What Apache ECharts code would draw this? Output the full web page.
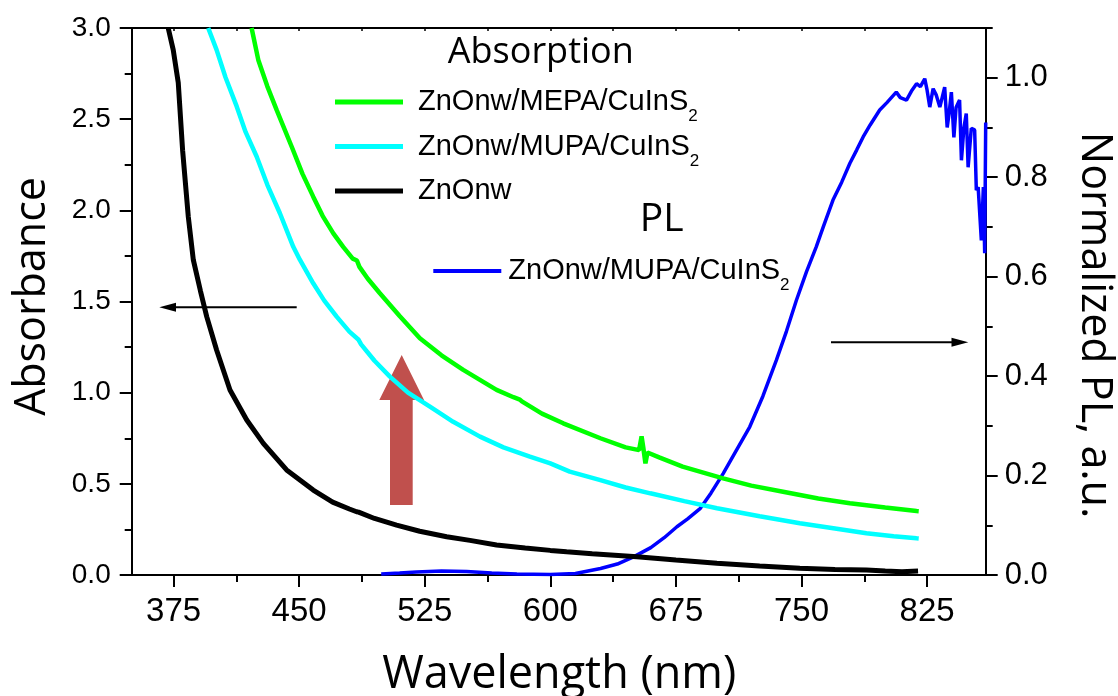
<!DOCTYPE html>
<html><head><meta charset="utf-8">
<script src="https://cdn.jsdelivr.net/npm/echarts@6/dist/echarts.min.js"></script>
<style>html,body{margin:0;padding:0;background:#fff}#c{width:1118px;height:696px}</style>
</head><body><div id="c"></div>
<script>
// ---- ticks ----
const xMajorTicks = [375, 450, 525, 600, 675, 750, 825];
const xMinorTicks = [412.5, 487.5, 562.5, 637.5, 712.5, 787.5];
const yLeftMajor = [0, 0.5, 1.0, 1.5, 2.0, 2.5, 3.0];
const yLeftMinor = [0.25, 0.75, 1.25, 1.75, 2.25, 2.75];
const yRightMajor = [0, 0.2, 0.4, 0.6, 0.8, 1.0];
const yRightMinor = [0.1, 0.3, 0.5, 0.7, 0.9, 1.1];

// ---- absorption: ZnOnw/MEPA/CuInS2 ----
const wlMEPA = [421.6, 425.6, 431, 436.6, 445.5, 452, 458.4, 464, 470.4, 476.3, 482, 484.5, 486, 491, 498.2, 510, 522.1, 535, 548, 567.9, 578, 581.8, 583, 595, 607.7, 629.9, 645, 653, 654.5, 655.5, 656.8, 658, 665, 679, 703.2, 720, 739, 760, 778.9, 800, 818.7, 820];
const absMEPA = [3.0, 2.825, 2.68, 2.55, 2.35, 2.20, 2.075, 1.97, 1.874, 1.80, 1.735, 1.725, 1.69, 1.625, 1.545, 1.42, 1.298, 1.205, 1.125, 1.015, 0.975, 0.962, 0.952, 0.885, 0.832, 0.75, 0.70, 0.685, 0.76, 0.70, 0.612, 0.672, 0.645, 0.594, 0.53, 0.49, 0.457, 0.42, 0.393, 0.37, 0.351, 0.35];

// ---- absorption: ZnOnw/MUPA/CuInS2 ----
const wlMUPA = [395.7, 400.7, 406, 412.7, 418, 424.6, 431, 438.5, 446.5, 450.5, 458.4, 465, 472.4, 480, 485.5, 487, 495, 504.2, 515, 528.1, 542, 558, 572, 587.8, 600, 611.6, 629.9, 645, 659.7, 680, 699.5, 725, 749, 770, 788.8, 805, 818.7, 820];
const absMUPA = [3.0, 2.88, 2.73, 2.57, 2.43, 2.295, 2.14, 1.984, 1.80, 1.728, 1.60, 1.505, 1.417, 1.335, 1.29, 1.265, 1.175, 1.088, 1.00, 0.923, 0.84, 0.759, 0.70, 0.649, 0.612, 0.567, 0.52, 0.48, 0.448, 0.405, 0.366, 0.322, 0.284, 0.255, 0.229, 0.212, 0.201, 0.20];

// ---- absorption: ZnOnw ----
const wlZnO = [371.8, 374.8, 377.8, 380.4, 383.8, 386.8, 391, 394.8, 400.7, 408.7, 418.7, 428.6, 442.5, 458.4, 470, 480, 484.3, 485.5, 495, 508.2, 522, 538.1, 552, 567.9, 585, 600, 609.7, 625, 651.7, 675, 699.5, 725, 749, 770, 788.8, 800, 810, 819.6];
const absZnO = [3.0, 2.88, 2.70, 2.33, 1.965, 1.728, 1.56, 1.417, 1.234, 1.015, 0.85, 0.722, 0.576, 0.466, 0.40, 0.362, 0.347, 0.345, 0.31, 0.274, 0.24, 0.21, 0.19, 0.165, 0.148, 0.135, 0.128, 0.117, 0.10, 0.082, 0.064, 0.05, 0.037, 0.03, 0.027, 0.022, 0.018, 0.022];

// ---- PL: ZnOnw/MUPA/CuInS2 (normalized) ----
const wlPL = [499, 510, 520, 535, 550, 565, 580, 600, 615, 630, 640, 650, 660, 668, 675.6, 682, 689.6, 696, 703.2, 711, 719.1, 727, 735, 741, 747, 753, 758.8, 763, 768.8, 774, 778.9, 783, 786.8, 791, 796.7, 801, 806.6, 809, 812.7, 816, 818.7, 821, 823.6, 825, 826.6, 828.6, 830.5, 832.6, 834, 835.5, 837, 838.2, 839.5, 841, 842.3, 844.4, 845.5, 847, 848.4, 849.5, 851.4, 853.4, 854.4, 855.5, 856.4, 857.4, 858.6, 859.4, 860];
const plMUPA = [0.002, 0.004, 0.006, 0.008, 0.007, 0.004, 0.002, 0.001, 0.003, 0.013, 0.022, 0.037, 0.055, 0.075, 0.097, 0.113, 0.134, 0.165, 0.204, 0.25, 0.298, 0.36, 0.432, 0.49, 0.553, 0.61, 0.66, 0.70, 0.754, 0.79, 0.828, 0.855, 0.881, 0.905, 0.935, 0.95, 0.971, 0.960, 0.955, 0.975, 0.988, 0.982, 0.998, 0.975, 0.941, 0.978, 0.965, 0.941, 0.96, 0.981, 0.90, 0.93, 0.971, 0.88, 0.94, 0.955, 0.834, 0.90, 0.928, 0.82, 0.898, 0.895, 0.774, 0.78, 0.78, 0.673, 0.78, 0.647, 0.91];

const seriesNames = ['ZnOnw/MEPA/CuInS2', 'ZnOnw/MUPA/CuInS2', 'ZnOnw', 'PL: ZnOnw/MUPA/CuInS2'];

const zip = (xs, ys) => xs.map((x, i) => [x, ys[i]]);
const BLACK = '#000';
const LAB_FONT = '"Liberation Sans", Arial, sans-serif';
const TITLE_FONT = '"Open Sans", "Noto Sans", sans-serif';

function legendText(name) {
  const n = name.replace('PL: ', '');
  if (n.endsWith('2')) return '{a|' + n.slice(0, -1) + '}{s|2}';
  return '{a|' + n + '}{s| }';
}
function legendRich(padLeft) {
  return {
    a: { fontSize: 29, lineHeight: 30, fontFamily: LAB_FONT, color: BLACK, padding: [0, 0, 0, padLeft] },
    s: { fontSize: 17, lineHeight: 30, fontFamily: LAB_FONT, color: BLACK, padding: [29, 0, 0, 0] }
  };
}

function valueAxis(extra) {
  return Object.assign({
    type: 'value',
    splitLine: { show: false },
    axisLine: { show: false, onZero: false, lineStyle: { color: BLACK, width: 2 } },
    axisTick: { show: true, lineStyle: { color: BLACK, width: 2 } },
    axisLabel: { show: false }
  }, extra);
}

const chart = echarts.init(document.getElementById('c'), null, { renderer: 'canvas' });
chart.setOption({
  animation: false,
  backgroundColor: '#fff',
  grid: { left: 131.7, right: 132.3, top: 28, bottom: 121, containLabel: false },
  xAxis: [
    valueAxis({ position: 'bottom', min: 350, max: 860,
      axisLine: { show: true, onZero: false, lineStyle: { color: BLACK, width: 2 } },
      axisTick: { show: true, length: 12, customValues: xMajorTicks, lineStyle: { color: BLACK, width: 2 } },
      axisLabel: { show: true, customValues: xMajorTicks, fontSize: 33, fontFamily: LAB_FONT, color: BLACK, margin: 20 } }),
    valueAxis({ position: 'bottom', min: 350, max: 860,
      axisTick: { show: true, length: 7, customValues: xMinorTicks, lineStyle: { color: BLACK, width: 2 } } }),
    valueAxis({ position: 'top', min: 350, max: 860,
      axisLine: { show: true, onZero: false, lineStyle: { color: BLACK, width: 2 } },
      axisTick: { show: true, inside: true, length: 3, customValues: xMajorTicks.concat(xMinorTicks), lineStyle: { color: BLACK, width: 1.5 } } })
  ],
  yAxis: [
    valueAxis({ position: 'left', min: 0, max: 3,
      axisLine: { show: true, onZero: false, lineStyle: { color: BLACK, width: 2 } },
      axisTick: { show: true, length: 12, customValues: yLeftMajor, lineStyle: { color: BLACK, width: 2 } },
      axisLabel: { show: true, customValues: yLeftMajor, formatter: v => Number(v).toFixed(1), fontSize: 28, fontFamily: LAB_FONT, color: BLACK, margin: 21 } }),
    valueAxis({ position: 'left', min: 0, max: 3,
      axisTick: { show: true, length: 7, customValues: yLeftMinor, lineStyle: { color: BLACK, width: 2 } } }),
    valueAxis({ position: 'right', min: 0, max: 1.1,
      axisLine: { show: true, onZero: false, lineStyle: { color: BLACK, width: 2 } },
      axisTick: { show: true, length: 12, customValues: yRightMajor, lineStyle: { color: BLACK, width: 2 } },
      axisLabel: { show: true, customValues: yRightMajor, formatter: v => Number(v).toFixed(1), fontSize: 31, fontFamily: LAB_FONT, color: BLACK, margin: 19 } }),
    valueAxis({ position: 'right', min: 0, max: 1.1,
      axisTick: { show: true, length: 7, customValues: yRightMinor, lineStyle: { color: BLACK, width: 2 } } })
  ],
  legend: [
    { data: seriesNames.slice(0, 3), orient: 'vertical', left: 335, top: 79, padding: 0,
      itemWidth: 68, itemHeight: 5, itemGap: -1.5, icon: 'rect', selectedMode: false,
      formatter: legendText, textStyle: { rich: legendRich(10) } },
    { data: [seriesNames[3]], orient: 'vertical', left: 433.3, top: 248, padding: 0,
      itemWidth: 68, itemHeight: 4, itemGap: 0, icon: 'rect', selectedMode: false,
      formatter: legendText, textStyle: { rich: legendRich(2) } }
  ],
  series: [
    { name: seriesNames[3], type: 'line', xAxisIndex: 0, yAxisIndex: 2, symbol: 'none', color: '#0000FF',
      lineStyle: { color: '#0000FF', width: 3.5 }, data: zip(wlPL, plMUPA) },
    { name: seriesNames[2], type: 'line', xAxisIndex: 0, yAxisIndex: 0, symbol: 'none', color: '#000000',
      lineStyle: { color: '#000000', width: 5 }, data: zip(wlZnO, absZnO) },
    { name: seriesNames[1], type: 'line', xAxisIndex: 0, yAxisIndex: 0, symbol: 'none', color: '#00FFFF',
      lineStyle: { color: '#00FFFF', width: 4.5 }, data: zip(wlMUPA, absMUPA) },
    { name: seriesNames[0], type: 'line', xAxisIndex: 0, yAxisIndex: 0, symbol: 'none', color: '#00FF00',
      lineStyle: { color: '#00FF00', width: 4.5 }, data: zip(wlMEPA, absMEPA) }
  ],
  graphic: [
    { type: 'text', x: 540.8, y: 53, style: { text: 'Absorption', font: '36px ' + TITLE_FONT, fill: BLACK, textAlign: 'center', align: 'center', textVerticalAlign: 'middle', verticalAlign: 'middle' } },
    { type: 'text', x: 661.7, y: 219.6, style: { text: 'PL', font: '39px ' + TITLE_FONT, fill: BLACK, textAlign: 'center', align: 'center', textVerticalAlign: 'middle', verticalAlign: 'middle' } },
    { type: 'text', x: 33, y: 296.5, rotation: Math.PI / 2, style: { text: 'Absorbance', font: '43px ' + TITLE_FONT, fill: BLACK, textAlign: 'center', align: 'center', textVerticalAlign: 'middle', verticalAlign: 'middle' } },
    { type: 'text', x: 1094.3, y: 325, rotation: -Math.PI / 2, style: { text: 'Normalized PL, a.u.', font: '43px ' + TITLE_FONT, fill: BLACK, textAlign: 'center', align: 'center', textVerticalAlign: 'middle', verticalAlign: 'middle' } },
    { type: 'text', x: 559.2, y: 675.5, style: { text: 'Wavelength (nm)', font: '45px ' + TITLE_FONT, fill: BLACK, textAlign: 'center', align: 'center', textVerticalAlign: 'middle', verticalAlign: 'middle' } },
    // left-pointing arrow
    { type: 'line', shape: { x1: 296.7, y1: 307.3, x2: 172, y2: 307.3 }, style: { stroke: BLACK, lineWidth: 2 } },
    { type: 'polygon', shape: { points: [[159.3, 307.3], [176, 302.8], [176, 311.8]] }, style: { fill: BLACK } },
    // right-pointing arrow
    { type: 'line', shape: { x1: 831, y1: 342.3, x2: 955, y2: 342.3 }, style: { stroke: BLACK, lineWidth: 2 } },
    { type: 'polygon', shape: { points: [[968.3, 342.3], [951.5, 337.8], [951.5, 346.8]] }, style: { fill: BLACK } },
    // thick red arrow
    { type: 'polygon', shape: { points: [[390, 505], [412.7, 505], [412.7, 400], [424, 400], [401.7, 355], [379.3, 400], [390, 400]] }, style: { fill: '#C0504D' } }
  ]
});
</script>
</body></html>
